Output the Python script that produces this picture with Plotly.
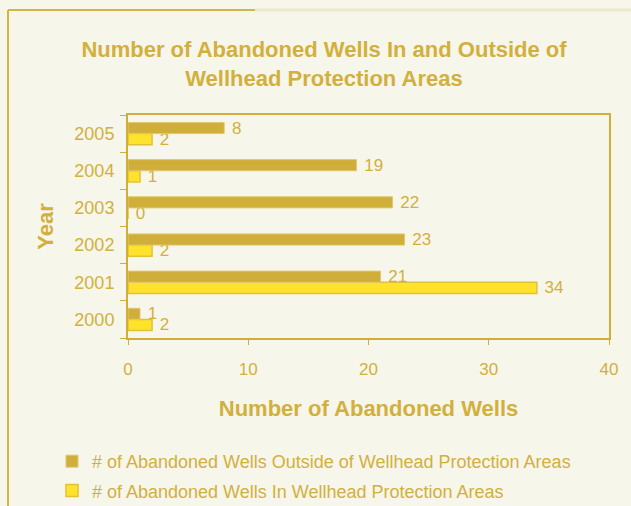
import plotly.graph_objects as go

years = ["2000", "2001", "2002", "2003", "2004", "2005"]
outside_vals = [1, 21, 23, 22, 19, 8]
inside_vals = [2, 34, 2, 0, 1, 2]
outside_name = "# of Abandoned Wells Outside of Wellhead Protection Areas"
inside_name = "# of Abandoned Wells In Wellhead Protection Areas"
x_ticks = [0, 10, 20, 30, 40]

gold = "#CFAE3A"
text_gold = "#D2B03E"
yellow = "#FFE22C"
bg = "#F7F6EA"
font_fam = "Liberation Sans, Arial, sans-serif"

fig = go.Figure()
fig.add_trace(go.Bar(
    y=years, x=inside_vals, orientation="h", name=inside_name,
    marker=dict(color=yellow, line=dict(color="#E2C13A", width=1.5)),
    text=[" " + str(v) for v in inside_vals], textposition="outside", constraintext="none",
    textfont=dict(color=text_gold, size=17, family=font_fam),
    cliponaxis=False, legendrank=2, legendgroup="in",
))
fig.add_trace(go.Bar(
    y=years, x=outside_vals, orientation="h", name=outside_name,
    marker=dict(color=gold, line=dict(color="#E2C970", width=1)),
    text=[" " + str(v) for v in outside_vals], textposition="outside", constraintext="none",
    textfont=dict(color=text_gold, size=17, family=font_fam),
    cliponaxis=False, legendrank=1, legendgroup="out",
))

L, R, T, B = 128, 609, 115, 338
W, H = 631, 506
pw, ph = R - L, B - T

def px(x):
    return (x - L) / pw

def py(y):
    return (B - y) / ph

shapes = [
    dict(type="line", xref="paper", yref="paper", x0=px(8), x1=px(255), y0=py(10), y1=py(10),
         line=dict(color="#D4B54A", width=2)),
    dict(type="line", xref="paper", yref="paper", x0=px(255), x1=px(631), y0=py(10), y1=py(10),
         line=dict(color="#ECE8CC", width=3)),
    dict(type="line", xref="paper", yref="paper", x0=px(8), x1=px(8), y0=py(10), y1=py(506),
         line=dict(color="#D4B54A", width=2)),
]

fig.update_layout(
    width=W, height=H,
    margin=dict(l=L, r=W - R, t=T, b=H - B, autoexpand=False),
    paper_bgcolor=bg, plot_bgcolor=bg,
    font=dict(family=font_fam, color=text_gold, size=17),
    barmode="group", bargap=0.4, bargroupgap=0,
    title=dict(text="<b>Number of Abandoned Wells In and Outside of<br>Wellhead Protection Areas</b>",
               x=324 / W, xanchor="center", y=1 - 57 / H, yanchor="middle",
               font=dict(size=22, color=text_gold, family=font_fam)),
    xaxis=dict(range=[0, 40], tickvals=x_ticks, ticks="outside", ticklen=5, tickcolor=gold,
               ticklabelstandoff=10, automargin=False,
               showgrid=False, zeroline=False, showline=True, linecolor=gold, linewidth=2,
               mirror=True, tickfont=dict(size=17, color=text_gold),
               title=dict(text="<b>Number of Abandoned Wells</b>", font=dict(size=22, color=text_gold),
                          standoff=22)),
    yaxis=dict(categoryorder="array", categoryarray=years, ticks="outside", ticklen=6,
               tickcolor=gold, tickson="boundaries", ticklabelstandoff=8, automargin=False,
               showgrid=False, showline=True,
               linecolor=gold, linewidth=2, mirror=True, tickfont=dict(size=18, color=text_gold),
               title=dict(text="<b>Year</b>", font=dict(size=22, color=text_gold))),
    legend=dict(x=px(52), xanchor="left", y=py(443), yanchor="top", bgcolor="rgba(0,0,0,0)",
                font=dict(size=18, color=text_gold), tracegroupgap=3, itemwidth=30),
    shapes=shapes,
)

fig.write_html("out.html", config={"displayModeBar": False},
               post_script="document.body.style.margin='0';document.body.style.background='%s';" % bg)
